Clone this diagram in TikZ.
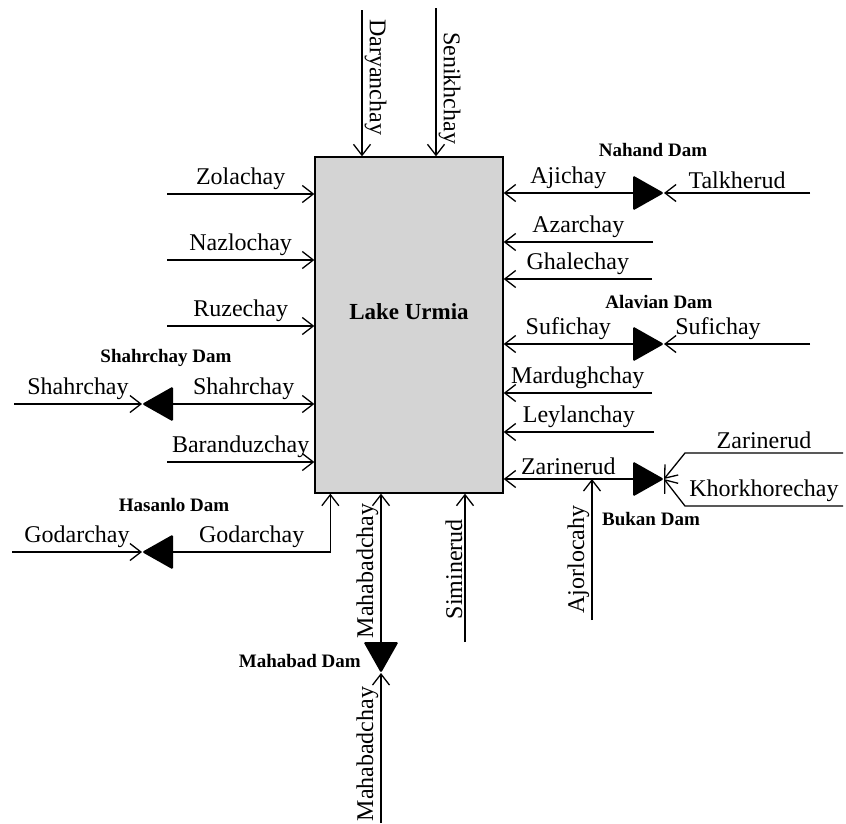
\documentclass[tikz,border=0pt]{standalone}
\usepackage{fontspec}
\setmainfont{Liberation Serif}
\usetikzlibrary{arrows.meta,positioning}
\tikzset{
  flow/.style={line width=1.3pt,-{Straight Barb[length=11pt,width=17pt]}},
  riv/.style={font=\fontsize{24}{28}\selectfont, inner sep=2pt},
  hlbl/.style={riv, above=2pt},
  vlbl/.style={riv, anchor=south},
  damlbl/.style={font=\bfseries\fontsize{19}{22}\selectfont, inner sep=0pt},
  lake/.style={draw, line width=1.3pt, fill=black!17, minimum width=188pt, minimum height=336pt},
  dam/.pic={
    \fill[rounded corners=1.5pt] (0,0) -- (-31,-17.5) -- (-31,17.5) -- cycle;
    \coordinate (-apex) at (0,0);
    \coordinate (-base) at (-31,0);
  }
}
\begin{document}
\begin{tikzpicture}[x=1pt,y=-1pt]
\useasboundingbox (0,0) rectangle (846,823);
\node[lake] (lake) at (409,325) {};
\node[font=\bfseries\fontsize{23}{26}\selectfont] at ([yshift=13pt]lake.center) {Lake Urmia};

% top
\coordinate (dar) at (362,10);
\coordinate (sen) at (436,8);
\draw[flow] (dar) -- (dar |- lake.north) node[pos=0.46, vlbl, rotate=-90] {Daryanchay};
\draw[flow] (sen) -- (sen |- lake.north) node[pos=0.54, vlbl, rotate=-90] {Senikhchay};

% left
\coordinate (zol) at (167,194);
\coordinate (naz) at (167,260);
\coordinate (ruz) at (167,326);
\coordinate (bar) at (167,462);
\draw[flow] (zol) -- (zol -| lake.west) node[midway, hlbl] {Zolachay};
\draw[flow] (naz) -- (naz -| lake.west) node[midway, hlbl] {Nazlochay};
\draw[flow] (ruz) -- (ruz -| lake.west) node[midway, hlbl] {Ruzechay};
\draw[flow] (bar) -- (bar -| lake.west) node[midway, hlbl] {Baranduzchay};

\pic[rotate=180] (shdam) at (142,404) {dam};
\node[damlbl, above=37pt of shdam-apex, xshift=24pt] {Shahrchay Dam};
\coordinate (shr) at (14,404);
\draw[flow] (shr) -- (shdam-apex) node[midway, hlbl] {Shahrchay};
\draw[flow] (shdam-base) -- (shdam-apex -| lake.west) node[midway, hlbl] {Shahrchay};

\pic[rotate=180] (hsdam) at (142,552) {dam};
\node[damlbl, above=40pt of hsdam-apex, xshift=32pt] {Hasanlo Dam};
\coordinate (god) at (12,552);
\draw[flow] (god) -- (hsdam-apex) node[midway, hlbl] {Godarchay};
\draw[flow] (hsdam-base) -| ([xshift=16pt]lake.south west) node[pos=0.25, hlbl] {Godarchay};

% bottom
\pic[rotate=270] (mhdam) at (381,673) {dam};
\node[damlbl, left=20pt of mhdam-apex, yshift=12pt] {Mahabad Dam};
\coordinate (mhb) at (381,823);
\draw[flow] (mhb) -- (mhdam-apex) node[pos=0.46, vlbl, rotate=90] {Mahabadchay};
\draw[flow] (mhdam-base) -- (mhdam-apex |- lake.south) node[pos=0.48, vlbl, rotate=90] {Mahabadchay};
\coordinate (sim) at (465,642);
\draw[flow] (sim) -- (sim |- lake.south) node[pos=0.49, vlbl, rotate=90] {Siminerud};

% right
\pic (nhdam) at (664,193) {dam};
\node[damlbl, above=36pt of nhdam-apex, xshift=-11pt] {Nahand Dam};
\coordinate (tlk) at (810,193);
\draw[flow] (tlk) -- (nhdam-apex) node[midway, hlbl] {Talkherud};
\draw[flow] (nhdam-base) -- (nhdam-apex -| lake.east) node[midway, hlbl] {Ajichay};

\coordinate (aza) at (653,242);
\coordinate (gha) at (652,279);
\draw[flow] (aza) -- (aza -| lake.east) node[midway, hlbl] {Azarchay};
\draw[flow] (gha) -- (gha -| lake.east) node[midway, hlbl] {Ghalechay};

\pic (avdam) at (664,344) {dam};
\node[damlbl, above=35pt of avdam-apex, xshift=-5pt] {Alavian Dam};
\coordinate (suf) at (810,344);
\draw[flow] (suf) -- (avdam-apex) node[pos=0.63, hlbl] {Sufichay};
\draw[flow] (avdam-base) -- (avdam-apex -| lake.east) node[midway, hlbl] {Sufichay};

\coordinate (mar) at (652,393);
\coordinate (ley) at (654,432);
\draw[flow] (mar) -- (mar -| lake.east) node[midway, hlbl] {Mardughchay};
\draw[flow] (ley) -- (ley -| lake.east) node[midway, hlbl] {Leylanchay};

\pic (bkdam) at (664,479) {dam};
\node[damlbl, below=33pt of bkdam-apex, xshift=-13pt] {Bukan Dam};
\coordinate (zru) at (843,453);
\coordinate (kho) at (843,506);
\draw[flow] (zru) -- ++(-158,0) node[midway, hlbl] {Zarinerud} -- (bkdam-apex);
\draw[flow] (kho) -- ++(-158,0) node[midway, hlbl] {Khorkhorechay} -- (bkdam-apex);
\draw[flow] (bkdam-base) -- (bkdam-apex -| lake.east) node[midway, hlbl] {Zarinerud};
\coordinate (ajo) at (592,620);
\draw[flow] (ajo) -- (ajo |- bkdam-apex) node[pos=0.43, vlbl, rotate=90] {Ajorlocahy};
\end{tikzpicture}
\end{document}
